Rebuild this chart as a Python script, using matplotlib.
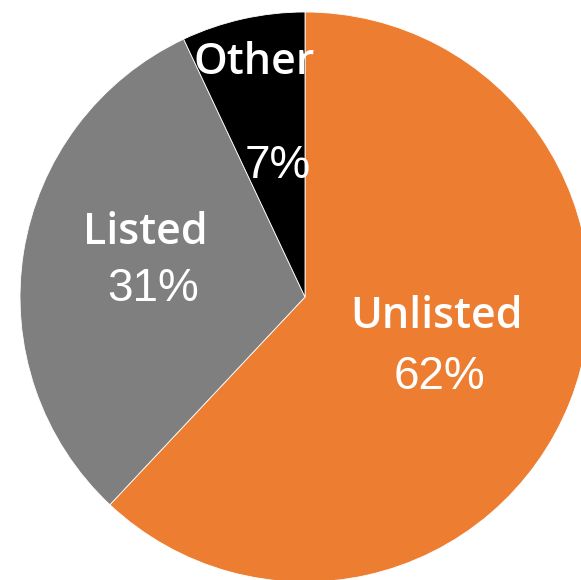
import matplotlib.pyplot as plt

# data
labels = ["Unlisted", "Listed", "Other"]
shares = [62, 31, 7]
colors = ["#ED7D31", "#7F7F7F", "#000000"]

# pie geometry in pixel units (figure is 581 x 580)
W, H = 581, 580
cx, cy, r = 305, H - 297, 285

fig = plt.figure(figsize=(5.81, 5.80), dpi=100)
ax = fig.add_axes([0, 0, 1, 1])
ax.pie(shares, colors=colors, startangle=90, counterclock=False,
       center=(cx, cy), radius=r, frame=True,
       wedgeprops=dict(edgecolor="white", linewidth=0.6))
ax.set_xlim(0, W)
ax.set_ylim(0, H)
ax.set_aspect("auto")
ax.axis("off")

# label positions (pixel coords, y from top)
name_pos = [(437, 316), (145, 233), (254, 62)]
pct_pos = [(439, 377), (153, 289), (278, 166)]
for name, s, (nx, ny), (px, py) in zip(labels, shares, name_pos, pct_pos):
    ax.text(nx, H - ny, name, ha="center", va="center", color="white",
            fontsize=31, family="Open Sans", fontweight="semibold")
    ax.text(px, H - py, f"{s}%", ha="center", va="center", color="white",
            fontsize=33, family="Liberation Sans")

fig.savefig("out.png", dpi=100)
